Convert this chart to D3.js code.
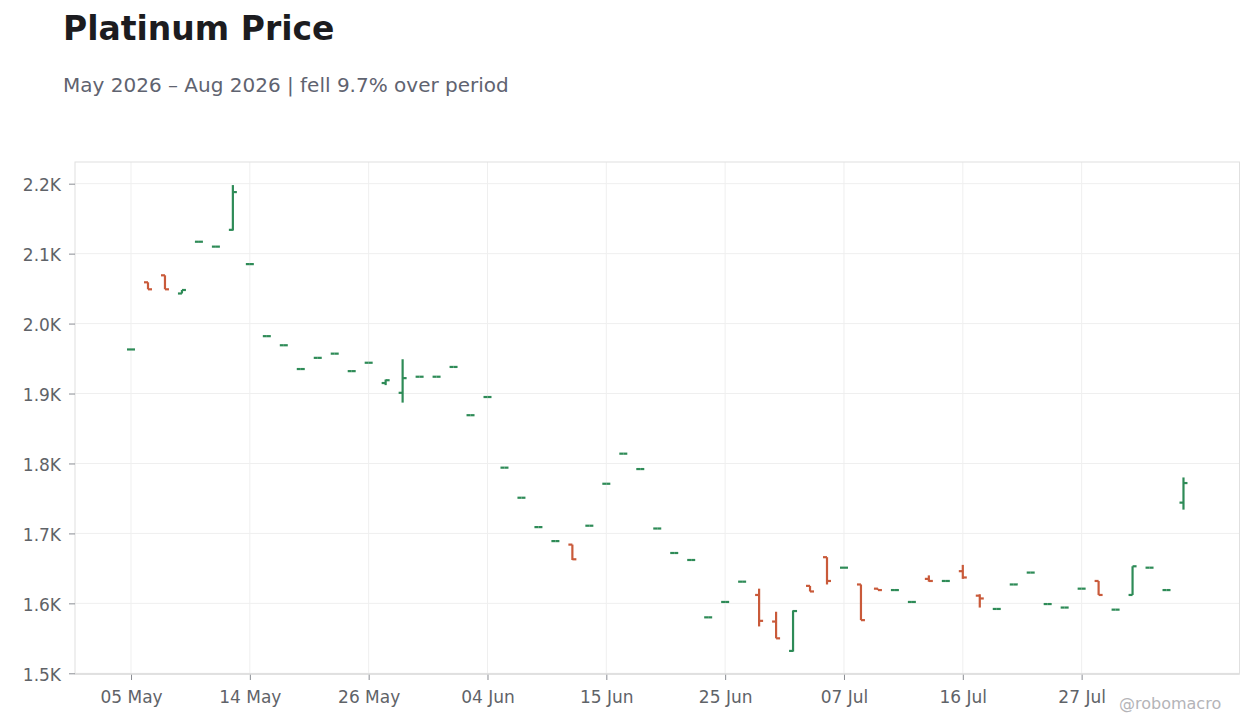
<!DOCTYPE html>
<html lang="en">
<head>
<meta charset="UTF-8">
<title>Platinum Price</title>
<script src="https://d3js.org/d3.v7.min.js"></script>
<style>
  body { margin: 0; background: #fff; font-family: "DejaVu Sans", sans-serif; }
  .axis text { fill: #5f6368; font-size: 17px; font-family: "DejaVu Sans", sans-serif; }
  .axis line { stroke: #8a8d93; }
  .axis path { stroke: none; }
</style>
</head>
<body>
<div id="chart"></div>
<script>
// trading days (US calendar, holidays skipped)
const dates = [
  "2026-05-05","2026-05-06","2026-05-07","2026-05-08","2026-05-11","2026-05-12","2026-05-13",
  "2026-05-14","2026-05-15","2026-05-18","2026-05-19","2026-05-20","2026-05-21","2026-05-22",
  "2026-05-26","2026-05-27","2026-05-28","2026-05-29","2026-06-01","2026-06-02","2026-06-03",
  "2026-06-04","2026-06-05","2026-06-08","2026-06-09","2026-06-10","2026-06-11","2026-06-12",
  "2026-06-15","2026-06-16","2026-06-17","2026-06-18","2026-06-22","2026-06-23","2026-06-24",
  "2026-06-25","2026-06-26","2026-06-29","2026-06-30","2026-07-01","2026-07-02","2026-07-06",
  "2026-07-07","2026-07-08","2026-07-09","2026-07-10","2026-07-13","2026-07-14","2026-07-15",
  "2026-07-16","2026-07-17","2026-07-20","2026-07-21","2026-07-22","2026-07-23","2026-07-24",
  "2026-07-27","2026-07-28","2026-07-29","2026-07-30","2026-07-31","2026-08-03","2026-08-04"
];
const opens = [
  1963,2059,2069,2043,2117,2110,2134, 2085,1982,1969,1935,1951,1957,1932,
  1944,1915,1901,1924,1924,1938,1869, 1895,1794,1751,1709,1689,1684,1711,
  1771,1814,1792,1707,1672,1662,1580, 1602,1631,1612,1574,1532,1625,1666,
  1651,1627,1621,1619,1602,1635,1632, 1646,1611,1592,1627,1644,1599,1594,
  1621,1632,1591,1612,1651,1619,1744
];
const highs = [
  1963,2059,2069,2048,2117,2110,2198, 2085,1982,1969,1935,1951,1957,1932,
  1944,1920,1949,1924,1924,1938,1869, 1895,1794,1751,1709,1689,1684,1711,
  1771,1814,1792,1707,1672,1662,1580, 1602,1631,1621,1588,1590,1625,1666,
  1651,1627,1621,1619,1602,1640,1632, 1655,1613,1592,1627,1644,1599,1594,
  1621,1632,1591,1653,1651,1619,1780
];
const lows = [
  1963,2049,2049,2043,2117,2110,2133, 2085,1982,1969,1935,1951,1957,1932,
  1944,1912,1887,1924,1924,1938,1869, 1895,1794,1751,1709,1689,1662,1711,
  1771,1814,1792,1707,1672,1662,1580, 1602,1631,1567,1550,1531,1617,1627,
  1651,1576,1619,1619,1602,1631,1632, 1635,1594,1592,1627,1644,1599,1594,
  1621,1612,1591,1612,1651,1619,1734
];
const closes = [
  1963,2049,2049,2048,2117,2110,2188, 2085,1982,1969,1935,1951,1957,1932,
  1944,1919,1922,1924,1924,1938,1869, 1895,1794,1751,1709,1689,1663,1711,
  1771,1814,1792,1707,1672,1662,1580, 1602,1631,1575,1550,1589,1617,1632,
  1651,1576,1619,1619,1602,1632,1632, 1637,1607,1592,1627,1644,1599,1594,
  1621,1612,1591,1653,1651,1619,1772
];
const xTicks = ["2026-05-05","2026-05-14","2026-05-26","2026-06-04","2026-06-15",
                "2026-06-25","2026-07-07","2026-07-16","2026-07-27"];
const yTicks = [1500, 1600, 1700, 1800, 1900, 2000, 2100, 2200];

const W = 1260, H = 728;
const plot = { left: 75, right: 1239.5, top: 162, bottom: 674 };
const upColor = "#2e8b57", downColor = "#c95a3a";

const data = dates.map((d, i) => ({
  date: d, open: opens[i], high: highs[i], low: lows[i], close: closes[i]
}));

const svg = d3.select("#chart").append("svg")
  .attr("width", W).attr("height", H)
  .style("font-family", "'DejaVu Sans', sans-serif");

const x = d3.scalePoint()
  .domain(dates)
  .range([plot.left, plot.right])
  .padding(3.3);

const y = d3.scaleLinear()
  .domain([1499, 2231])
  .range([plot.bottom, plot.top]);

const parse = d3.timeParse("%Y-%m-%d");
const fmtDate = d3.timeFormat("%d %b");

// grid
svg.append("g").selectAll("line").data(yTicks).join("line")
  .attr("x1", plot.left).attr("x2", plot.right)
  .attr("y1", d => y(d)).attr("y2", d => y(d))
  .attr("stroke", "#efefef").attr("stroke-width", 1);

svg.append("g").selectAll("line").data(xTicks).join("line")
  .attr("x1", d => x(d)).attr("x2", d => x(d))
  .attr("y1", plot.top).attr("y2", plot.bottom)
  .attr("stroke", "#efefef").attr("stroke-width", 1);

// frame
svg.append("rect")
  .attr("x", plot.left).attr("y", plot.top)
  .attr("width", plot.right - plot.left).attr("height", plot.bottom - plot.top)
  .attr("fill", "none").attr("stroke", "#e0e0e0").attr("stroke-width", 1);

// axes
const yAxis = svg.append("g")
  .attr("class", "axis")
  .attr("transform", `translate(${plot.left},0)`)
  .call(d3.axisLeft(y).tickValues(yTicks).tickSize(6).tickPadding(8)
    .tickFormat(d => (d / 1000).toFixed(1) + "K"));
yAxis.selectAll("text").attr("dy", "0.4em");

const xAxis = svg.append("g")
  .attr("class", "axis")
  .attr("transform", `translate(0,${plot.bottom})`)
  .call(d3.axisBottom(x).tickValues(xTicks).tickSize(6).tickPadding(11)
    .tickFormat(d => fmtDate(parse(d))));

svg.append("line")
  .attr("x1", plot.left).attr("x2", plot.right)
  .attr("y1", plot.bottom).attr("y2", plot.bottom)
  .attr("stroke", "#dcdcdc").attr("stroke-width", 1.5);

// OHLC bars
const tickLen = 4;
const bars = svg.append("g").selectAll("g").data(data).join("g")
  .attr("stroke", d => d.close >= d.open ? upColor : downColor)
  .attr("stroke-width", 2.2)
  .attr("fill", "none");

bars.append("line")
  .attr("x1", d => x(d.date)).attr("x2", d => x(d.date))
  .attr("y1", d => y(d.high)).attr("y2", d => y(d.low))
  .attr("stroke-width", d => d.high === d.low ? 0 : 2.2);

bars.append("line")
  .attr("x1", d => x(d.date) - tickLen).attr("x2", d => x(d.date))
  .attr("y1", d => y(d.open)).attr("y2", d => y(d.open));

bars.append("line")
  .attr("x1", d => x(d.date)).attr("x2", d => x(d.date) + tickLen)
  .attr("y1", d => y(d.close)).attr("y2", d => y(d.close));

// titles
svg.append("text")
  .attr("x", 63).attr("y", 40)
  .attr("font-size", 33).attr("font-weight", "bold")
  .attr("fill", "#1c1c20")
  .text("Platinum Price");

svg.append("text")
  .attr("x", 63).attr("y", 92)
  .attr("font-size", 20)
  .attr("fill", "#5f6370")
  .text("May 2026 – Aug 2026 | fell 9.7% over period");

svg.append("text")
  .attr("x", 1119).attr("y", 709)
  .attr("font-size", 16)
  .attr("fill", "#b4b4b8")
  .text("@robomacro");
</script>
</body>
</html>
